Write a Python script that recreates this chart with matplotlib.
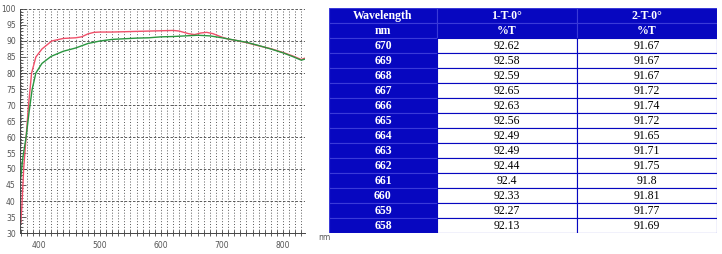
import matplotlib
matplotlib.use("Agg")
import matplotlib.pyplot as plt
from matplotlib.patches import Rectangle
from matplotlib.ticker import MultipleLocator

# curva de transmitancia
wl_1 = [370, 372, 375, 379, 383, 388, 395, 405, 421, 440, 460, 470, 480, 490,
        500, 520, 540, 560, 580, 600, 620, 630, 645, 655, 665, 675, 685, 700,
        710, 720, 740, 760, 780, 800, 815, 830, 835]
t_1 = [33, 38, 50, 60, 70, 80, 85, 87.5, 90, 90.8, 91.0, 91.3, 92.2, 92.7,
       92.8, 92.8, 92.9, 93.0, 93.1, 93.2, 93.3, 93.1, 92.3, 92.0, 92.5, 92.7,
       92.3, 91.2, 90.6, 90.3, 89.5, 88.5, 87.6, 86.4, 85.4, 84.2, 84.6]

wl_2 = [370, 374, 379, 384, 389, 395, 405, 420, 440, 460, 480, 500, 520, 540,
        560, 580, 600, 620, 640, 660, 680, 700, 720, 740, 760, 780, 800, 815,
        830, 835]
t_2 = [47, 54, 60, 68, 75, 80, 83, 85.2, 86.8, 87.8, 89.2, 90.0, 90.5, 90.7,
       90.9, 91.0, 91.3, 91.4, 91.6, 91.8, 91.6, 91.0, 90.3, 89.6, 88.6, 87.5,
       86.3, 85.2, 84.0, 84.3]

# tabla
header_1 = ["Wavelength", "1-T-0°", "2-T-0°"]
header_2 = ["nm", "%T", "%T"]
tab_wl = ["670", "669", "668", "667", "666", "665", "664", "663", "662",
          "661", "660", "659", "658"]
tab_t1 = ["92.62", "92.58", "92.59", "92.65", "92.63", "92.56", "92.49",
          "92.49", "92.44", "92.4", "92.33", "92.27", "92.13"]
tab_t2 = ["91.67", "91.67", "91.67", "91.72", "91.74", "91.72", "91.65",
          "91.71", "91.75", "91.8", "91.81", "91.77", "91.69"]

W, H = 722, 254
fig = plt.figure(figsize=(W / 100, H / 100), dpi=100)

# --- grafico ---
ax = fig.add_axes([20 / W, 1 - 233 / H, 285 / W, 224 / H])
ax.plot(wl_1, t_1, color="#f0506a", lw=1.0)
ax.plot(wl_2, t_2, color="#2a9640", lw=1.0)
ax.set_xlim(369, 836)
ax.set_ylim(30, 100)

for x in range(370, 836, 10):
    ax.axvline(x, color="#444444", lw=0.6, ls=(0, (1.2, 2.2)), zorder=0)
for y in range(40, 101, 10):
    ax.axhline(y, color="#444444", lw=0.6, ls=(0, (3, 2)), zorder=0)

ax.spines["top"].set_visible(False)
ax.spines["right"].set_visible(False)
ax.spines["left"].set_color("#444444")
ax.spines["bottom"].set_color("#444444")
ax.spines["left"].set_linewidth(0.7)
ax.spines["bottom"].set_linewidth(0.7)

ax.xaxis.set_major_locator(MultipleLocator(100))
ax.xaxis.set_minor_locator(MultipleLocator(10))
ax.yaxis.set_major_locator(MultipleLocator(5))
ax.yaxis.set_minor_locator(MultipleLocator(1))
ax.tick_params(axis="x", which="both", direction="inout", colors="#444444",
               labelsize=5.5, labelcolor="#555555", width=0.6, pad=3)
ax.tick_params(axis="x", which="major", length=5)
ax.tick_params(axis="x", which="minor", length=4)
ax.tick_params(axis="y", which="both", direction="in", colors="#444444",
               labelsize=5.5, labelcolor="#555555", width=0.6, pad=3)
ax.tick_params(axis="y", which="major", length=4)
ax.tick_params(axis="y", which="minor", length=2)
fig.text(318 / W, 1 - 238 / H, "nm", fontsize=5.5, color="#555555",
         va="center", ha="left")

# --- tabla ---
blue = "#0707c0"
tx = fig.add_axes([329 / W, 1 - 233 / H, 388 / W, 225 / H])
tx.set_xlim(0, 388)
tx.set_ylim(15 * 15, 0)
tx.axis("off")
col_x = [0, 108, 248, 388]
font = dict(family=["Liberation Serif", "DejaVu Serif"], fontsize=8.5)

rows = [header_1, header_2] + [[a, b, c] for a, b, c in zip(tab_wl, tab_t1, tab_t2)]
for i, row in enumerate(rows):
    y0 = i * 15
    for j, txt in enumerate(row):
        x0, x1 = col_x[j], col_x[j + 1]
        is_head = i < 2 or j == 0
        face = blue if is_head else "white"
        edge = "#3a3ad8" if is_head else blue
        tx.add_patch(Rectangle((x0, y0), x1 - x0, 15, facecolor=face,
                               edgecolor=edge, lw=0.8))
        tx.text((x0 + x1) / 2, y0 + 7.8, txt, ha="center", va="center",
                color="white" if is_head else "black",
                fontweight="bold" if is_head else "normal", **font)

fig.savefig("out.png", dpi=100)
